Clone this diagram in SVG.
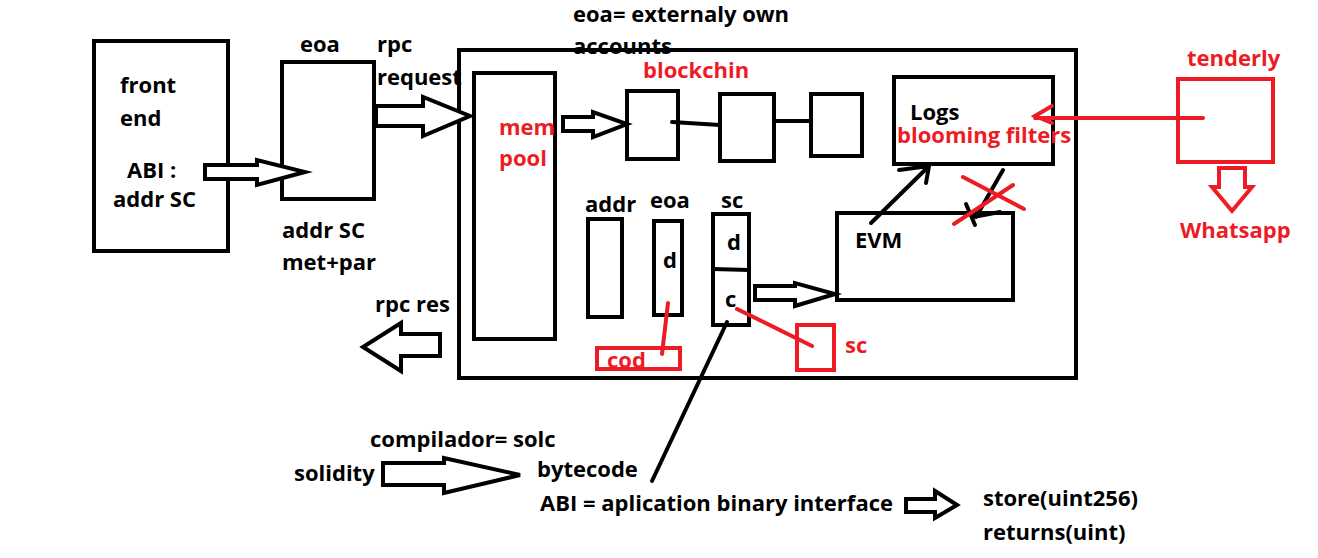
<svg xmlns="http://www.w3.org/2000/svg" width="1318" height="558" viewBox="0 0 1318 558">
<style>
text{font-family:"Open Sans","Liberation Sans",sans-serif;font-weight:bold;font-size:22px;fill:#000}
.r{fill:#ed1c24}
.box{fill:none;stroke:#000;stroke-width:4}
.rbox{fill:none;stroke:#ed1c24;stroke-width:4}
.ln{fill:none;stroke:#000;stroke-width:4;stroke-linecap:round}
.rl{fill:none;stroke:#ed1c24;stroke-width:4;stroke-linecap:round}
.ar{fill:#fff;stroke:#000;stroke-width:4;stroke-linejoin:miter}
.rar{fill:#fff;stroke:#ed1c24;stroke-width:4}
</style>
<rect width="1318" height="558" fill="#fff"/>
<g id="frontend"><rect class="box" x="94" y="41" width="134" height="210"/><text x="120" y="93">front</text><text x="120" y="126">end</text><text x="127" y="178">ABI :</text><text x="113" y="207">addr SC</text></g>
<g id="eoa-box"><rect class="box" x="282" y="62" width="92" height="137"/><text x="300" y="52">eoa</text><text x="282" y="238">addr SC</text><text x="282" y="270">met+par</text></g>
<g id="rpc-labels"><text x="377" y="52">rpc</text><text x="377" y="85">request</text><text x="375" y="312">rpc res</text></g>
<g id="note"><text x="573" y="22">eoa= externaly own</text><text x="573" y="54">accounts</text></g>
<g id="container"><rect class="box" x="459" y="50" width="617" height="328"/></g>
<g id="mempool"><rect class="box" x="474" y="73" width="81" height="266"/><text class="r" x="499" y="135">mem</text><text class="r" x="499" y="166">pool</text></g>
<g id="blockchain"><text class="r" x="643" y="78">blockchin</text><rect class="box" x="627" y="91" width="51" height="68"/><rect class="box" x="720" y="94" width="54" height="67"/><rect class="box" x="811" y="94" width="51" height="62"/></g>
<g id="logs"><rect class="box" x="894" y="77" width="159" height="87"/><text x="910" y="120">Logs</text><text class="r" x="897" y="143">blooming filters</text></g>
<g id="tenderly"><rect class="rbox" x="1178" y="79" width="95" height="83"/><text class="r" x="1187" y="66">tenderly</text></g>
<g id="whatsapp"><text class="r" x="1180" y="238">Whatsapp</text></g>
<g id="evm"><rect class="box" x="837" y="213" width="176" height="87"/><text x="855" y="248">EVM</text></g>
<g id="addr"><rect class="box" x="588" y="219" width="34" height="98"/><text x="585" y="212">addr</text></g>
<g id="eoa-acc"><rect class="box" x="654" y="221" width="28" height="94"/><text x="650" y="208">eoa</text><text x="663" y="268">d</text></g>
<g id="sc"><rect class="box" x="713" y="214" width="36" height="111"/><line class="ln" x1="713" y1="269" x2="749" y2="270"/><text x="721" y="208">sc</text><text x="727" y="250">d</text><text x="725" y="307">c</text></g>
<g id="cod"><rect class="rbox" x="597" y="348" width="83" height="21"/><text class="r" x="607" y="368">cod</text></g>
<g id="sc-red"><rect class="rbox" x="797" y="325" width="37" height="45"/><text class="r" x="845" y="353">sc</text></g>
<g id="bottom"><text x="370" y="447">compilador= solc</text><text x="294" y="481">solidity</text><text x="537" y="477">bytecode</text><text x="540" y="511">ABI = aplication binary interface</text><text x="983" y="506">store(uint256)</text><text x="983" y="540">returns(uint)</text></g>
<g id="connectors">
<path class="ar" d="M205,165 H257 V160 L305,172 L257,185 V179 H205 Z"/>
<path class="ar" d="M376,106 H423 V97 L470,116 L423,136 V126 H376 Z"/>
<path class="ar" d="M563,117 H593 V112 L627,124 L593,137 V131 H563 Z"/>
<path class="ar" d="M755,286 H795 V283 L835,294 L795,306 V300 H755 Z"/>
<path class="ar" d="M440,334 H401 V323 L363,347 L401,371 V356 H440 Z"/>
<path class="ar" d="M383,463 H444 V458 L520,475 L444,493 V485 H383 Z"/>
<path class="ar" d="M906,499 H935 V491 L957,505 L935,518 V512 H906 Z"/>
<path class="rar" d="M1219,168 H1245 V187 H1252 L1232,211 L1212,187 H1219 Z"/>
<line class="ln" x1="672" y1="122" x2="720" y2="125"/>
<line class="ln" x1="774" y1="121" x2="811" y2="121"/>
<path class="ln" d="M871,223 L928,167 M899,170 L929,166 L926,183"/>
<path class="ln" d="M1003,170 L976,217 M966,204 L975,225 M973,217 L1000,212"/>
<path class="rl" d="M963,177 L1024,209 M954,224 L1013,185"/>
<path class="rl" d="M1203,118 H1035 M1052,106 L1035,116 L1052,123"/>
<line class="rl" x1="668" y1="303" x2="662" y2="354"/>
<line class="rl" x1="737" y1="309" x2="812" y2="346"/>
<line class="ln" x1="727" y1="322" x2="652" y2="481"/>
</g>
</svg>
